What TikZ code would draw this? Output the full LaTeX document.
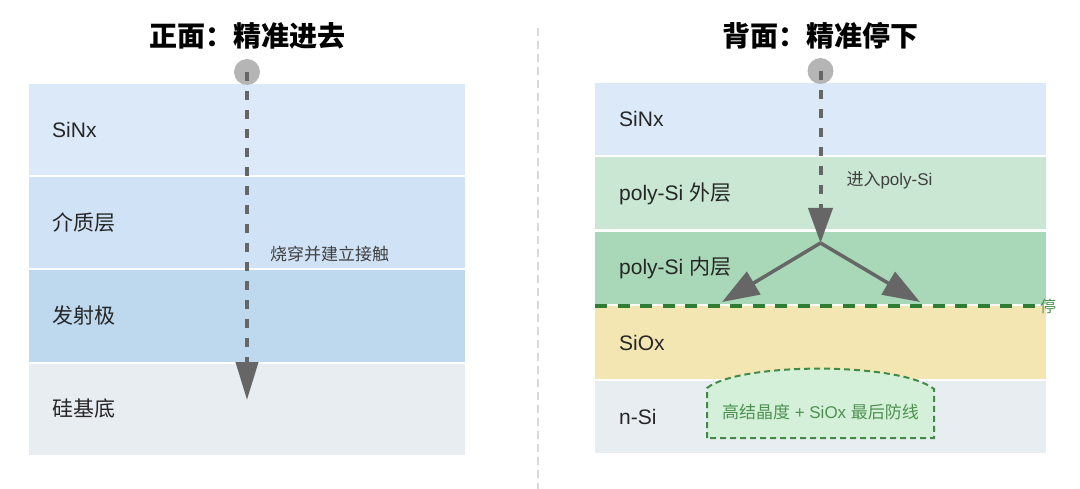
\documentclass[tikz,border=0pt]{standalone}
\usepackage{fontspec}
\setmainfont{Liberation Sans}
\newfontfamily\cjk{Noto Sans CJK SC}
\usetikzlibrary{arrows.meta}
\definecolor{sinxc}{HTML}{DCE9F8}
\definecolor{dielc}{HTML}{D0E3F6}
\definecolor{emitc}{HTML}{BED8EE}
\definecolor{subc}{HTML}{E8EDF2}
\definecolor{polyoc}{HTML}{C9E7D2}
\definecolor{polyic}{HTML}{A8D8B8}
\definecolor{sioxc}{HTML}{F4E6B2}
\definecolor{domec}{HTML}{D4F0D8}
\definecolor{stopc}{HTML}{2E7D32}
\definecolor{probec}{HTML}{666666}
\tikzset{
  layerL/.style={rectangle, inner sep=0pt, minimum width=436pt, minimum height=91pt},
  layerR/.style={rectangle, inner sep=0pt, minimum width=451pt, minimum height=72pt},
  lbl/.style={anchor=west, inner sep=0pt, text=black!85, font=\fontsize{21}{21}\selectfont},
  note/.style={anchor=west, inner sep=0pt, text=black!75, font=\fontsize{17}{17}\selectfont},
  title/.style={inner sep=0pt, font=\fontsize{28}{28}\selectfont\cjk\bfseries},
  src/.style={circle, fill=black!29, inner sep=0pt, minimum size=26pt},
  probe/.style={draw=probec, line width=4pt, dash pattern=on 9pt off 10pt},
  split/.style={draw=probec, line width=3.5pt, -{Triangle[width=26pt,length=37pt]}},
  stopline/.style={draw=stopc, line width=4pt, dash pattern=on 12pt off 10.5pt},
  dome/.style={draw=stopc!90, fill=domec, line width=2pt, dash pattern=on 6pt off 4pt},
}
\begin{document}
\begin{tikzpicture}[x=1pt,y=-1pt]
        \useasboundingbox (0,0) rectangle (1080,489);
        \def\x{247}
        \def\y{93}
        \def\xr{820.5}
        \def\yr{74.5}
        % front side
        \node[title] (T0) at (\x, 36) {正面：精准进去};
        \node[layerL, fill=sinxc] (L0) at (\x, 130+0*\y) {};
        \node[layerL, fill=dielc] (L1) at (\x, 130+1*\y) {};
        \node[layerL, fill=emitc] (L2) at (\x, 130+2*\y) {};
        \node[layerL, fill=subc] (L3) at (\x, 130+3*\y) {};
        \node[lbl] (L0t) at (52, 130+0*\y) {SiNx};
        \node[lbl] (L1t) at (52, 130+1*\y) {\cjk 介质层};
        \node[lbl] (L2t) at (52, 130+2*\y) {\cjk 发射极};
        \node[lbl] (L3t) at (52, 130+3*\y) {\cjk 硅基底};
        \node[src] (S0) at (\x, 72) {};
        \coordinate (E0) at (\x, 400);
        \path (S0.center) edge [probe, -{Triangle[width=22pt,length=38pt]}] node [note, pos=0.555, xshift=21pt] {\cjk 烧穿并建立接触} (E0);
        % divider
        \draw[black!15, line width=1.2pt, dash pattern=on 8pt off 5pt] (538, 28) -- (538, 489);
        % back side
        \node[title] (T1) at (\xr, 36) {背面：精准停下};
        \node[layerR, fill=sinxc] (R0) at (\xr, 119+0*\yr) {};
        \node[layerR, fill=polyoc] (R1) at (\xr, 119+1*\yr) {};
        \node[layerR, fill=polyic] (R2) at (\xr, 119+2*\yr) {};
        \node[layerR, fill=sioxc] (R3) at (\xr, 119+3*\yr) {};
        \node[layerR, fill=subc] (R4) at (\xr, 119+4*\yr) {};
        \node[lbl] (R0t) at (619, 119+0*\yr) {SiNx};
        \node[lbl] (R1t) at (619, 119+1*\yr) {poly-Si {\cjk 外层}};
        \node[lbl] (R2t) at (619, 119+2*\yr) {poly-Si {\cjk 内层}};
        \node[lbl] (R3t) at (619, 119+3*\yr) {SiOx};
        \node[lbl] (R4t) at (619, 119+4*\yr) {n-Si};
        \node[src] (S1) at (\xr, 71) {};
        \coordinate (E1) at (\xr, 243);
        \coordinate (E1l) at (722, 302);
        \coordinate (E1r) at (920, 302);
        \path (S1.center) edge [probe, -{Triangle[width=24pt,length=35pt]}] node [note, pos=0.634, xshift=24pt] {{\cjk 进入}poly-Si} (E1);
        \path (E1) edge [split] (E1l);
        \path (E1) edge [split] (E1r);
        \coordinate (P0) at (595, 306);
        \coordinate (P1) at (1037, 306);
        \path (P0) edge [stopline] (P1);
        \node[anchor=west, inner sep=0pt, text=stopc!85, font=\fontsize{16}{16}\selectfont\cjk] (P1t) at (1040, 306) {停};
        \path[dome] (707,438) -- (707,388) .. controls (740,362) and (900,362) .. (934,389) -- (934,438) -- cycle;
        \node[inner sep=0pt, text=stopc!85, font=\fontsize{17}{17}\selectfont] (D0) at (\xr, 412) {{\cjk 高结晶度} + SiOx {\cjk 最后防线}};
      \end{tikzpicture}
\end{document}
